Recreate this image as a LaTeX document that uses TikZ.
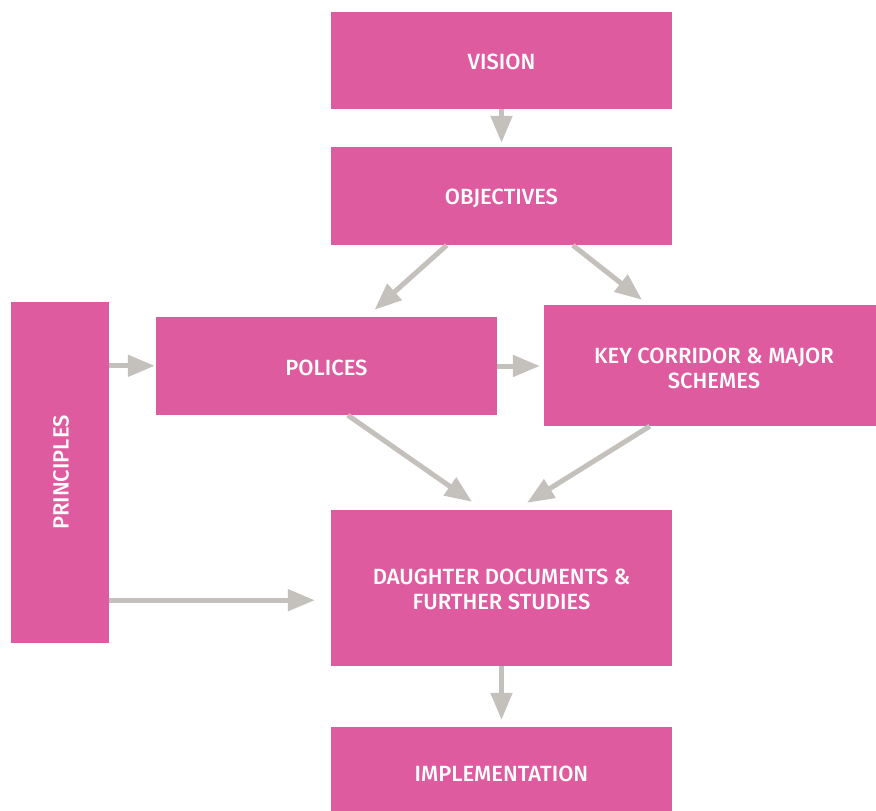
\documentclass[tikz,border=0pt]{standalone}
\usepackage{fontspec}
\setmainfont{Fira Sans}[UprightFont=* Medium]
\usetikzlibrary{arrows.meta,calc}
\definecolor{boxpink}{RGB}{223,91,160}
\definecolor{arrgray}{RGB}{196,192,187}
\tikzset{
  pbox/.style={fill=boxpink, draw=none, inner sep=0pt},
  btext/.style={text=white, align=center, inner sep=0pt, font=\fontsize{22}{25}\selectfont},
  garrow/.style={draw=arrgray, line width=5pt, -{Triangle[length=27pt,width=21pt]}},
}
\begin{document}
\begin{tikzpicture}[x=1pt,y=-1pt]
\useasboundingbox (0,0) rectangle (876,811);
\node[pbox, minimum width=341pt, minimum height=97pt] (vision) at (501.5,60.5) {};
\node[btext] (visiontext) at ($(vision.center)+(0,1)$) {VISION};
\node[pbox, minimum width=341pt, minimum height=98pt] (objectives) at (501.5,196) {};
\node[btext] (objtext) at ($(objectives.center)+(0,2.5)$) {OBJECTIVES};
\node[pbox, minimum width=98pt, minimum height=341pt] (principles) at (60,472.5) {};
\node[btext, rotate=90] (principlestext) at ($(principles.center)+(1,0)$) {PRINCIPLES};
\node[pbox, minimum width=341pt, minimum height=98pt] (polices) at (326.5,366) {};
\node[btext] (policestext) at ($(polices.center)+(0,1.5)$) {POLICES};
\node[pbox, minimum width=332pt, minimum height=121pt] (key) at (710,365.5) {};
\node[btext] (keytext) at ($(key.center)+(4,3)$) {KEY CORRIDOR \& MAJOR\\SCHEMES};
\node[pbox, minimum width=341pt, minimum height=156pt] (daughter) at (501.5,588) {};
\node[btext] (daughtertext) at ($(daughter.center)+(0,1)$) {DAUGHTER DOCUMENTS \&\\FURTHER STUDIES};
\node[pbox, minimum width=341pt, minimum height=84pt] (impl) at (501.5,769) {};
\node[btext] (impltext) at ($(impl.center)+(0,4.5)$) {IMPLEMENTATION};

\draw[garrow, shorten >=4pt] (vision.south) -- (objectives.north);
\draw[garrow] ($(objectives.south west)+(116,0)$) -- ($(polices.north)+(48,-7)$);
\draw[garrow] ($(objectives.south west)+(242,0)$) -- ($(key.north)+(-68,-5)$);
\draw[garrow, shorten >=1pt] ($(principles.north east)+(0,64)$) coordinate (p1) -- (polices.west |- p1);
\draw[garrow, shorten >=4pt] (polices.east) -- (key.west |- polices.east);
\draw[garrow] ($(polices.south west)+(192,0)$) -- ($(daughter.north)+(-29.5,-8)$);
\draw[garrow] ($(key.south west)+(106,0)$) -- ($(daughter.north)+(25.5,-7)$);
\draw[garrow, shorten >=16pt] ($(principles.south east)+(0,-43)$) coordinate (p2) -- (daughter.west |- p2);
\draw[garrow, shorten >=7pt] (daughter.south) -- (impl.north);
\end{tikzpicture}
\end{document}
